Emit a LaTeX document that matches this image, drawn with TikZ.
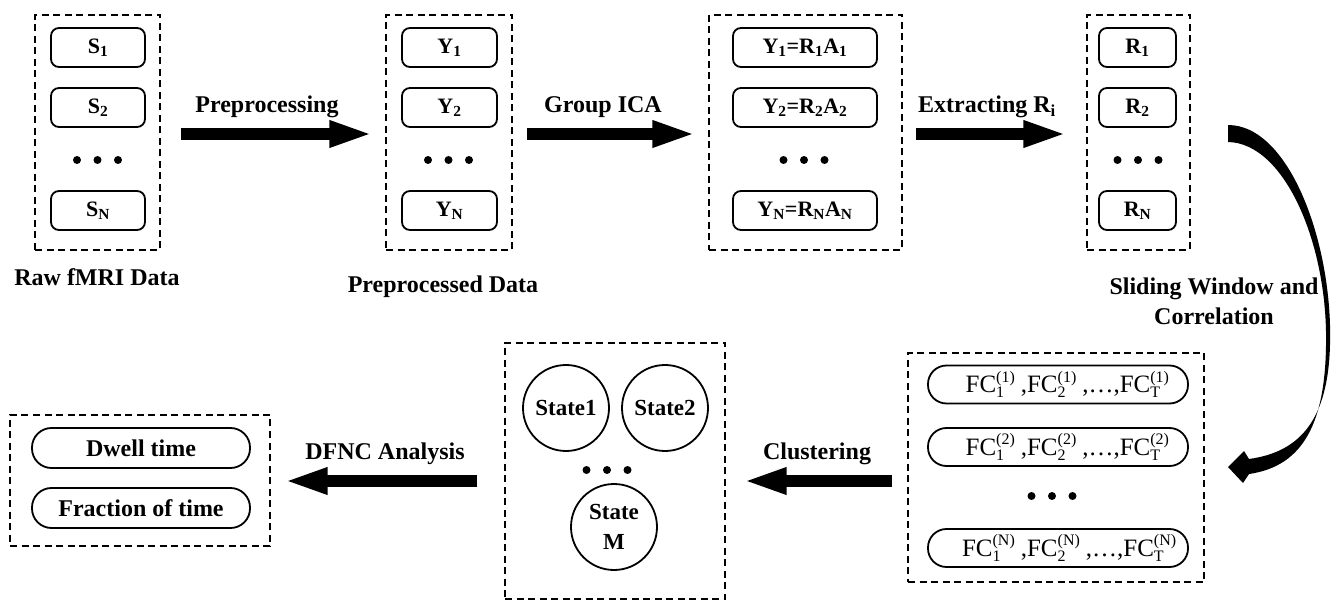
\documentclass[tikz,border=0pt]{standalone}
\usepackage{fontspec}
\setmainfont{Liberation Serif}
\usetikzlibrary{arrows.meta}
\newcommand\fsz[1]{\fontsize{#1}{#1}\selectfont}
% one windowed connectivity term FC with subscript #1 and superscript (#2) stacked
\newcommand\fcx[2]{FC\begingroup\fsz{16}%
  \setbox0\hbox{(#2)}\setbox2\hbox{#1}%
  \ifdim\wd0>\wd2 \dimen0=\wd0 \else \dimen0=\wd2 \fi%
  \rlap{\raisebox{10.5pt}{\box0}}\rlap{\raisebox{-5pt}{\box2}}\hspace{\dimen0}\endgroup}
% one row of terms for window set #1
\newcommand\fcrow[1]{\fcx{1}{#1}\hspace{6pt},\fcx{2}{#1}\hspace{6pt},\ldots,\fcx{T}{#1}}
% three dots in a row: name prefix, centre x, y
\newcommand\dotrow[3]{%
  \node[dotmark] (#1a) at (#2-20.5,#3) {};
  \node[dotmark] (#1b) at (#2,#3) {};
  \node[dotmark] (#1c) at (#2+20.5,#3) {};}
\tikzset{
  grp/.style={draw, dash pattern=on 7pt off 4.5pt, line width=1.2pt, inner sep=0pt},
  item/.style={draw, line width=1.8pt, rounded corners=8pt, minimum height=39pt,
               inner sep=0pt, font=\fsz{22}\bfseries},
  pill/.style={draw, line width=1.8pt, rounded corners=18.5pt, minimum height=38pt,
               inner sep=0pt},
  lbl/.style={font=\fsz{24}\bfseries, anchor=base, inner sep=0pt},
  blockarrow/.style={line width=12pt, -{Triangle[length=44pt,width=24pt]}},
  dotmark/.style={circle, fill, inner sep=0pt, minimum size=8pt},
  statenode/.style={circle, draw, line width=1.8pt, minimum size=86pt, inner sep=0pt,
                    align=center, font=\fsz{23}\bfseries}
}
\begin{document}
\begin{tikzpicture}[x=1pt,y=-1pt]
\useasboundingbox (0,0) rectangle (1336,601);

% ---- top row: raw data
\node[grp, minimum width=125pt, minimum height=235pt] (g1) at (97.5,132.5) {};
\node[item, minimum width=94pt] (s1) at (98,47.5) {S\textsubscript{1}};
\node[item, minimum width=94pt] (s2) at (98,107.5) {S\textsubscript{2}};
\dotrow{ds}{97.5}{160}
\node[item, minimum width=94pt] (sn) at (98,210.5) {S\textsubscript{N}};
\node[lbl] (l1) at (97,286) {Raw fMRI Data};

% ---- preprocessed data
\node[grp, minimum width=126pt, minimum height=235pt] (g2) at (449,132.5) {};
\node[item, minimum width=95pt] (y1) at (449.5,47.5) {Y\textsubscript{1}};
\node[item, minimum width=95pt] (y2) at (449.5,107.5) {Y\textsubscript{2}};
\dotrow{dy}{448.5}{160}
\node[item, minimum width=95pt] (yn) at (449.5,210.5) {Y\textsubscript{N}};
\node[lbl] (l2) at (443,293) {Preprocessed Data};

% ---- group ICA decomposition
\node[grp, minimum width=193pt, minimum height=235pt] (g3) at (805.5,132.5) {};
\node[item, minimum width=144pt] (a1) at (805,47.5) {Y\textsubscript{1}=R\textsubscript{1}A\textsubscript{1}};
\node[item, minimum width=144pt] (a2) at (805,107.5) {Y\textsubscript{2}=R\textsubscript{2}A\textsubscript{2}};
\dotrow{da}{804}{160}
\node[item, minimum width=144pt] (an) at (805,210.5) {Y\textsubscript{N}=R\textsubscript{N}A\textsubscript{N}};

% ---- time courses
\node[grp, minimum width=103pt, minimum height=235pt] (g4) at (1138.5,132.5) {};
\node[item, minimum width=77pt] (r1) at (1137.5,47.5) {R\textsubscript{1}};
\node[item, minimum width=77pt] (r2) at (1137.5,107.5) {R\textsubscript{2}};
\dotrow{dr}{1138}{160}
\node[item, minimum width=77pt] (rn) at (1137.5,210.5) {R\textsubscript{N}};

% ---- top row arrows
\draw[blockarrow] ([xshift=20pt,yshift=-1.5pt]g1.east) -- ([xshift=-12pt,yshift=-1.5pt]g2.west);
\draw[blockarrow] ([xshift=14pt,yshift=-1.5pt]g2.east) -- ([xshift=-12pt,yshift=-1.5pt]g3.west);
\draw[blockarrow] ([xshift=13pt,yshift=-1.5pt]g3.east) -- ([xshift=-19pt,yshift=-1.5pt]g4.west);
\node[lbl] (t1) at (267,113) {Preprocessing};
\node[lbl] (t2) at (603,113) {Group ICA};
\node[lbl] (t3) at (987,113) {Extracting R\textsubscript{i}};

% ---- curved arrow down the right side
\fill (1228,125) .. controls (1290,125) and (1333,245) .. (1330,345)
      .. controls (1328,420) and (1300,452) .. (1249,459)
      -- (1244,451) -- (1228,467) -- (1243,483) -- (1249,474)
      .. controls (1305,466) and (1325,420) .. (1326,345)
      .. controls (1328,245) and (1285,143) .. (1228,142) -- cycle;
\node[lbl, align=center, font=\fontsize{24}{30}\selectfont\bfseries] (t4) at (1214,325)
  {Sliding Window and\\Correlation};

% ---- windowed connectivity
\node[grp, minimum width=296pt, minimum height=229pt] (g5) at (1056,467.5) {};
\node[pill, minimum width=260pt, font=\fsz{25}] (f1) at (1058,384.5) {\fcrow{1}};
\node[pill, minimum width=260pt, font=\fsz{25}] (f2) at (1058,447) {\fcrow{2}};
\dotrow{df}{1052}{496}
\node[pill, minimum width=260pt, font=\fsz{25}] (fn) at (1058,548) {\fcrow{N}};

% ---- clustered states
\node[grp, minimum width=220pt, minimum height=256pt] (g6) at (615,471) {};
\node[statenode] (st1) at (566,408) {State1};
\node[statenode] (st2) at (665,408) {State2};
\dotrow{dst}{607}{470}
\node[statenode, font=\fontsize{23}{30}\selectfont\bfseries] (stm) at (614,527) {State\\M};

% ---- dynamic measures
\node[grp, minimum width=260pt, minimum height=131pt] (g7) at (140,480.5) {};
\node[pill, minimum width=218pt, minimum height=40pt, rounded corners=19.5pt, font=\fsz{24}\bfseries] (m1) at (141,448) {Dwell time};
\node[pill, minimum width=218pt, minimum height=40pt, rounded corners=19.5pt, font=\fsz{24}\bfseries] (m2) at (141,508) {Fraction of time};

% ---- bottom row arrows
\coordinate (ya) at (0,481);
\draw[blockarrow] ([xshift=-15pt]g5.west |- ya) -- ([xshift=17pt]g6.east |- ya);
\draw[blockarrow] ([xshift=-27pt]g6.west |- ya) -- ([xshift=13pt]g7.east |- ya);
\node[lbl] (t5) at (817,459) {Clustering};
\node[lbl] (t6) at (385,459) {DFNC Analysis};
\end{tikzpicture}
\end{document}
